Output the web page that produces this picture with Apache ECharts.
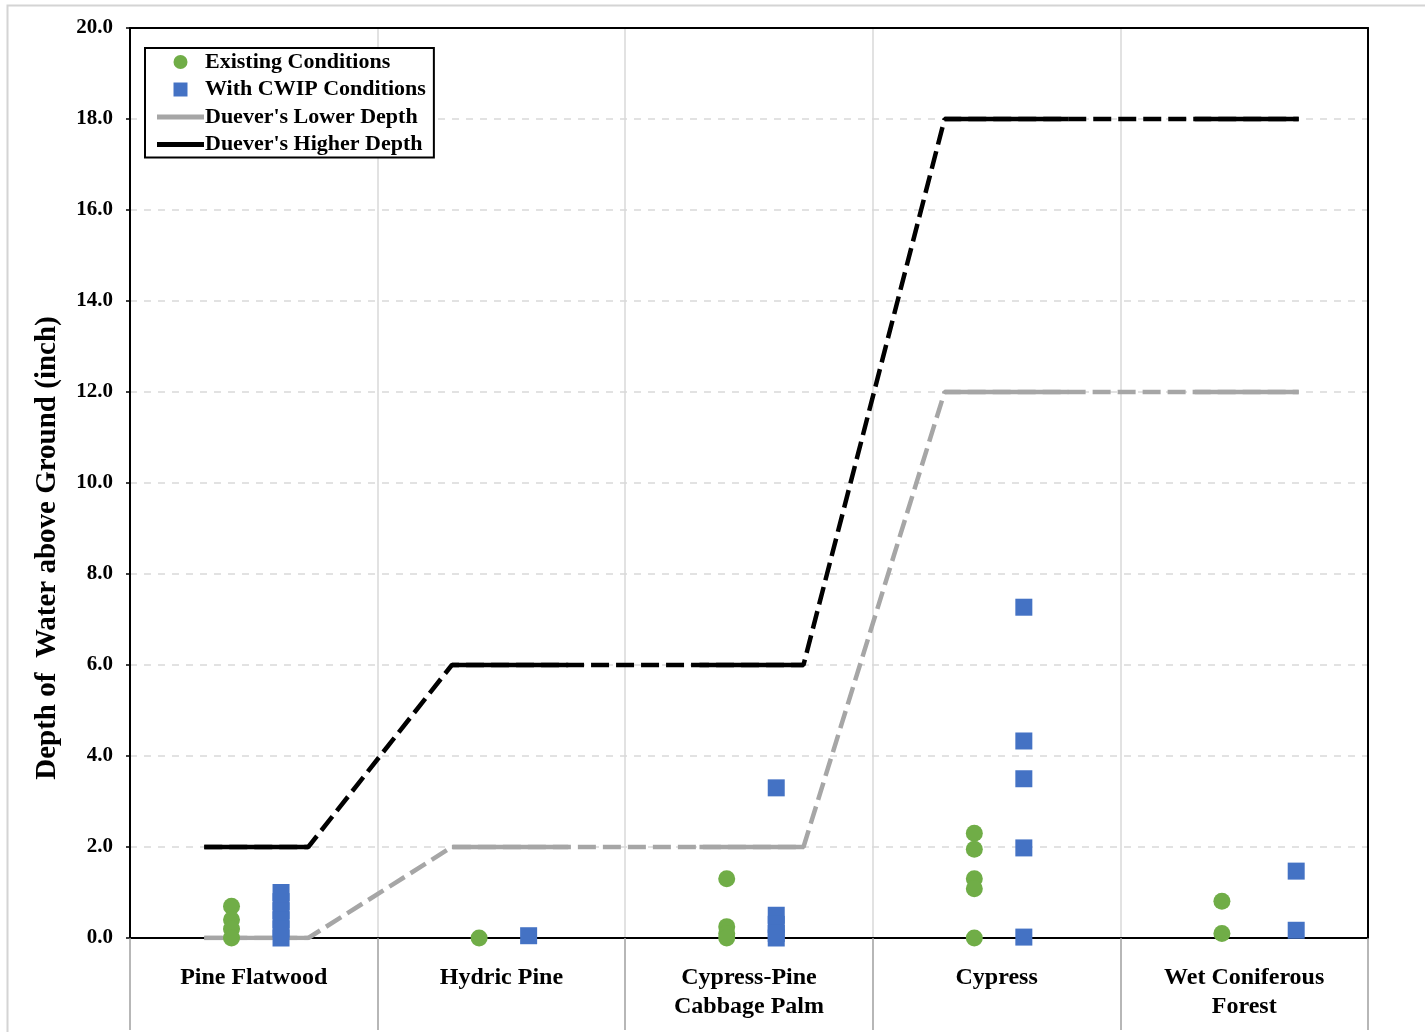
<!DOCTYPE html>
<html>
<head>
<meta charset="utf-8">
<script src="https://cdn.jsdelivr.net/npm/echarts@6/dist/echarts.min.js"></script>
<style>
html,body{margin:0;padding:0;background:#fff;}
#chart{width:1425px;height:1032px;}
</style>
</head>
<body>
<div id="chart"></div>
<script>
// ---- data ----
const categories = ['Pine Flatwood', 'Hydric Pine', 'Cypress-Pine\nCabbage Palm', 'Cypress', 'Wet Coniferous\nForest'];
const existingValues = [
  [0.7, 0.4, 0.2, 0.0],
  [0.0],
  [1.3, 0.25, 0.1, 0.0],
  [2.3, 1.95, 1.3, 1.08, 0.0],
  [0.81, 0.1]
];
const cwipValues = [
  [1.0, 0.8, 0.6, 0.4, 0.2, 0.0],
  [0.05],
  [3.3, 0.5, 0.3, 0.1, 0.0],
  [7.27, 4.33, 3.5, 1.98, 0.02],
  [1.47, 0.17]
];
const lowerDepth = [0, 2, 2, 12, 12];
const higherDepth = [2, 6, 6, 18, 18];
const yMin = 0, yMax = 20, yStep = 2;

// ---- layout (positions within each category band) ----
const existingOffset = [0.41, 0.41, 0.41, 0.41, 0.41];
const cwipOffset = [0.61, 0.61, 0.61, 0.61, 0.71];
const flatStart = [0.30, 0.30, 0.30, 0.29, 0.30];
const flatEnd = [0.72, 0.77, 0.72, 0.79, 0.72];

function scatterData(vals, offs) {
  const out = [];
  vals.forEach((arr, i) => arr.forEach(v => out.push([i + offs[i], v])));
  return out;
}
function fullPath(depths) {
  const out = [];
  depths.forEach((d, i) => { out.push([i + flatStart[i], d]); out.push([i + flatEnd[i], d]); });
  return out;
}
function flatPath(depths) {
  const out = [];
  depths.forEach((d, i) => {
    if (i > 0) out.push([i + flatStart[i] - 0.01, '-']);
    out.push([i + flatStart[i], d]);
    out.push([i + flatEnd[i], d]);
  });
  return out;
}

const FONT = '"Liberation Serif", "Times New Roman", serif';
const GRAY = '#a6a6a6';
const GREEN = '#70ad47';
const BLUE = '#4472c4';

const chart = echarts.init(document.getElementById('chart'));
chart.setOption({
  backgroundColor: '#fff',
  animation: false,
  graphic: [{
    type: 'rect', shape: {x: 7.5, y: 5.5, width: 1430, height: 1040},
    style: {fill: 'none', stroke: '#d4d4d4', lineWidth: 2}, silent: true, z: -1
  }],
  grid: {left: 130, right: 57, top: 28, bottom: 94, show: false},
  legend: {
    left: 145, top: 48, orient: 'vertical',
    data: [
      {name: 'Existing Conditions', icon: 'circle'},
      {name: 'With CWIP Conditions', icon: 'path://M0 0H10V10H0Z'},
      {name: "Duever's Lower Depth", icon: 'path://M0 0H94V10H0Z', itemStyle: {color: GRAY}},
      {name: "Duever's Higher Depth", icon: 'path://M0 0H94V10H0Z', itemStyle: {color: '#000'}}
    ],
    symbolKeepAspect: true,
    itemWidth: 47, itemHeight: 14, itemGap: 5.5,
    padding: [3, 8, 2, 12],
    borderColor: '#000', borderWidth: 2, backgroundColor: '#fff',
    textStyle: {fontFamily: FONT, fontWeight: 'bold', fontSize: 22, color: '#000', padding: [0, 0, 0, -4]}
  },
  xAxis: [
    {
      type: 'category', data: categories, position: 'bottom', boundaryGap: true,
      axisLine: {show: true, lineStyle: {color: '#000', width: 2}},
      axisTick: {show: false},
      axisLabel: {margin: 25, fontFamily: FONT, fontWeight: 'bold', fontSize: 24, color: '#000', lineHeight: 29, interval: 0},
      splitLine: {show: true, lineStyle: {color: '#d9d9d9', width: 1.5}}
    },
    {
      type: 'category', data: categories, position: 'bottom', boundaryGap: true, offset: 14,
      axisLine: {show: false},
      axisTick: {show: true, length: 92, lineStyle: {color: '#a0a0a0', width: 1.5}},
      axisLabel: {show: false},
      splitLine: {show: false}
    },
    {type: 'value', min: 0, max: categories.length, show: false},
    {
      type: 'value', min: 0, max: categories.length, position: 'top',
      axisLine: {show: true, onZero: false, lineStyle: {color: '#000', width: 2}},
      axisTick: {show: false}, axisLabel: {show: false}, splitLine: {show: false}
    }
  ],
  yAxis: [
    {
      type: 'value', min: yMin, max: yMax, interval: yStep,
      name: 'Depth of  Water above Ground (inch)', nameLocation: 'middle', nameGap: 68, nameRotate: 90,
      nameTextStyle: {fontFamily: FONT, fontWeight: 'bold', fontSize: 29, color: '#000', padding: [0, 130, 0, 0]},
      axisLine: {show: true, lineStyle: {color: '#000', width: 2}},
      axisTick: {show: true, length: 4, lineStyle: {color: '#000', width: 1.5}},
      axisLabel: {margin: 17, fontFamily: FONT, fontWeight: 'bold', fontSize: 21, color: '#000', formatter: v => v.toFixed(1)},
      splitLine: {show: true, lineStyle: {color: '#d9d9d9', width: 1.5, type: [7, 7]}}
    },
    {
      type: 'value', min: yMin, max: yMax, interval: yStep, position: 'right',
      axisLine: {show: true, onZero: false, lineStyle: {color: '#000', width: 2}},
      axisTick: {show: false}, axisLabel: {show: false}, splitLine: {show: false}
    }
  ],
  series: [
    {name: 'lowerConn', type: 'line', xAxisIndex: 2, data: fullPath(lowerDepth), symbol: 'none', silent: true,
     lineStyle: {color: GRAY, width: 4.5, type: [18, 7]}, z: 2},
    {name: "Duever's Lower Depth", type: 'line', xAxisIndex: 2, data: flatPath(lowerDepth), symbol: 'none', connectNulls: false,
     itemStyle: {color: GRAY}, lineStyle: {color: GRAY, width: 4.5}, z: 3},
    {name: 'higherConn', type: 'line', xAxisIndex: 2, data: fullPath(higherDepth), symbol: 'none', silent: true,
     lineStyle: {color: '#000', width: 4.5, type: [18, 7]}, z: 2},
    {name: "Duever's Higher Depth", type: 'line', xAxisIndex: 2, data: flatPath(higherDepth), symbol: 'none', connectNulls: false,
     itemStyle: {color: '#000'}, lineStyle: {color: '#000', width: 4.5}, z: 3},
    {name: 'Existing Conditions', type: 'scatter', xAxisIndex: 2, data: scatterData(existingValues, existingOffset),
     symbol: 'circle', symbolSize: 17, itemStyle: {color: GREEN, opacity: 1}, z: 5},
    {name: 'With CWIP Conditions', type: 'scatter', xAxisIndex: 2, data: scatterData(cwipValues, cwipOffset),
     symbol: 'rect', symbolSize: 17, itemStyle: {color: BLUE, opacity: 1}, z: 5}
  ]
});
</script>
</body>
</html>
